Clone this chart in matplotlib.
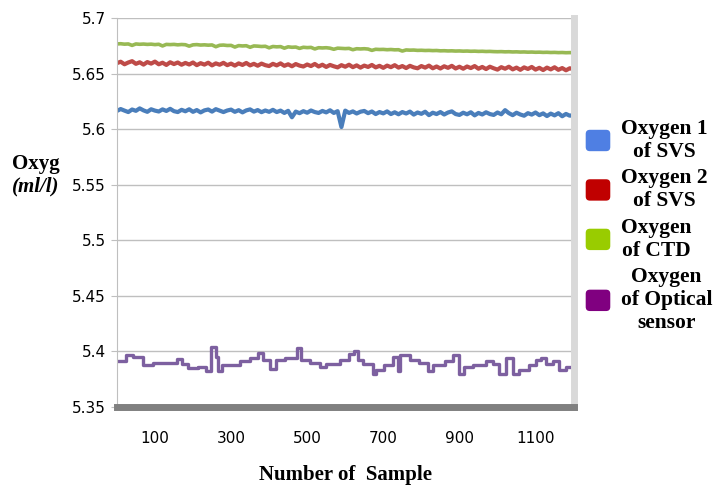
import numpy as np
import matplotlib
matplotlib.use("Agg")
import matplotlib.pyplot as plt
from matplotlib.patches import FancyBboxPatch
from matplotlib.legend_handler import HandlerPatch

# samples every 10 points for the SVS / CTD sensors
samples = list(range(0, 1201, 10))

oxy1_svs = [5.6165, 5.6182, 5.6168, 5.6155, 5.6178, 5.6166, 5.6188, 5.6170, 5.6157, 5.6180,
            5.6168, 5.6160, 5.6179, 5.6165, 5.6184, 5.6163, 5.6155, 5.6175, 5.6162, 5.6180,
            5.6157, 5.6173, 5.6152, 5.6170, 5.6178, 5.6159, 5.6181, 5.6168, 5.6155, 5.6169,
            5.6177, 5.6157, 5.6172, 5.6152, 5.6170, 5.6179, 5.6159, 5.6173, 5.6154, 5.6169,
            5.6157, 5.6175, 5.6155, 5.6168, 5.6147, 5.6166, 5.6108, 5.6159, 5.6145, 5.6163,
            5.6149, 5.6169, 5.6155, 5.6147, 5.6165, 5.6152, 5.6171, 5.6147, 5.6163, 5.6020,
            5.6168, 5.6147, 5.6161, 5.6142, 5.6158, 5.6165, 5.6145, 5.6160, 5.6137, 5.6155,
            5.6143, 5.6161, 5.6137, 5.6153, 5.6135, 5.6155, 5.6142, 5.6159, 5.6132, 5.6151,
            5.6139, 5.6158, 5.6127, 5.6149, 5.6137, 5.6155, 5.6133, 5.6151, 5.6161, 5.6137,
            5.6129, 5.6149, 5.6135, 5.6153, 5.6125, 5.6147, 5.6133, 5.6153, 5.6137, 5.6129,
            5.6151, 5.6135, 5.6172, 5.6145, 5.6127, 5.6149, 5.6133, 5.6122, 5.6145, 5.6132,
            5.6151, 5.6127, 5.6143, 5.6119, 5.6141, 5.6125, 5.6145, 5.6117, 5.6138, 5.6122,
            5.6130]

oxy2_svs = [5.6595, 5.6608, 5.6585, 5.6601, 5.6613, 5.6589, 5.6603, 5.6582, 5.6605, 5.6591,
            5.6609, 5.6585, 5.6599, 5.6579, 5.6603, 5.6587, 5.6601, 5.6581, 5.6597, 5.6583,
            5.6601, 5.6577, 5.6595, 5.6582, 5.6599, 5.6575, 5.6593, 5.6581, 5.6598, 5.6577,
            5.6591, 5.6573, 5.6593, 5.6579, 5.6597, 5.6575, 5.6589, 5.6572, 5.6591, 5.6577,
            5.6569, 5.6589, 5.6575, 5.6593, 5.6571, 5.6585, 5.6567, 5.6587, 5.6573, 5.6565,
            5.6583, 5.6569, 5.6588, 5.6565, 5.6581, 5.6561, 5.6579, 5.6567, 5.6557, 5.6577,
            5.6563, 5.6581, 5.6559, 5.6575, 5.6555, 5.6573, 5.6561, 5.6579, 5.6557, 5.6571,
            5.6553, 5.6573, 5.6559, 5.6577, 5.6555, 5.6569, 5.6551, 5.6571, 5.6557, 5.6549,
            5.6569, 5.6555, 5.6573, 5.6549, 5.6565, 5.6547, 5.6567, 5.6553, 5.6571, 5.6547,
            5.6563, 5.6545, 5.6565, 5.6551, 5.6569, 5.6545, 5.6561, 5.6542, 5.6563, 5.6549,
            5.6537, 5.6559, 5.6545, 5.6563, 5.6539, 5.6555, 5.6535, 5.6557, 5.6543, 5.6561,
            5.6537, 5.6553, 5.6533, 5.6555, 5.6539, 5.6558, 5.6535, 5.6551, 5.6531, 5.6549,
            5.6540]

oxy_ctd = [5.6768, 5.6770, 5.6766, 5.6768, 5.6755, 5.6768, 5.6765, 5.6767, 5.6764, 5.6766,
           5.6762, 5.6765, 5.6750, 5.6764, 5.6762, 5.6764, 5.6760, 5.6763, 5.6761, 5.6748,
           5.6760, 5.6762, 5.6758, 5.6760, 5.6757, 5.6759, 5.6743, 5.6756, 5.6758, 5.6754,
           5.6755, 5.6740, 5.6753, 5.6750, 5.6752, 5.6738, 5.6750, 5.6748, 5.6745, 5.6747,
           5.6733, 5.6745, 5.6742, 5.6744, 5.6730, 5.6742, 5.6738, 5.6740, 5.6728, 5.6738,
           5.6735, 5.6737, 5.6723, 5.6734, 5.6732, 5.6734, 5.6730, 5.6720, 5.6730, 5.6728,
           5.6726, 5.6728, 5.6716, 5.6725, 5.6723, 5.6725, 5.6722, 5.6710, 5.6720, 5.6718,
           5.6719, 5.6716, 5.6718, 5.6715, 5.6716, 5.6704, 5.6714, 5.6712, 5.6713, 5.6710,
           5.6711, 5.6709, 5.6710, 5.6708, 5.6709, 5.6706, 5.6707, 5.6705, 5.6706, 5.6704,
           5.6705, 5.6703, 5.6704, 5.6702, 5.6703, 5.6701, 5.6702, 5.6700, 5.6701, 5.6699,
           5.6698, 5.6699, 5.6697, 5.6698, 5.6696, 5.6697, 5.6695, 5.6696, 5.6694, 5.6695,
           5.6693, 5.6694, 5.6692, 5.6693, 5.6691, 5.6692, 5.6690, 5.6691, 5.6689, 5.6690,
           5.6689]

# optical sensor is a stepped record
optical_x = [0, 25, 43, 69, 95, 157, 170, 187, 213, 235, 248, 260, 266, 275, 323, 349, 371,
             384, 402, 419, 441, 472, 485, 507, 533, 550, 585, 611, 624, 633, 646, 673,
             681, 703, 725, 738, 743, 769, 795, 817, 830, 861, 883, 900, 913, 935, 970,
             988, 1005, 1022, 1040, 1057, 1084, 1101, 1114, 1127, 1145, 1162, 1180, 1200]
optical = [5.391, 5.397, 5.395, 5.388, 5.390, 5.393, 5.389, 5.385, 5.386, 5.382, 5.404,
           5.395, 5.382, 5.388, 5.391, 5.394, 5.399, 5.392, 5.384, 5.392, 5.394, 5.403,
           5.392, 5.390, 5.386, 5.389, 5.392, 5.398, 5.400, 5.392, 5.389, 5.380, 5.383,
           5.388, 5.395, 5.382, 5.397, 5.392, 5.390, 5.382, 5.388, 5.391, 5.397, 5.380,
           5.386, 5.388, 5.391, 5.389, 5.380, 5.394, 5.380, 5.383, 5.388, 5.392, 5.394,
           5.389, 5.391, 5.383, 5.386, 5.386]

labels = ["Oxygen 1\nof SVS", "Oxygen 2\nof SVS", "Oxygen\nof CTD", "Oxygen\nof Optical\nsensor"]
line_colors = ["#4a7ebb", "#be4b48", "#98b954", "#7d60a0"]
legend_colors = ["#4f7fe3", "#c00000", "#99cc00", "#800080"]


class RoundBox(HandlerPatch):
    def create_artists(self, legend, orig_handle, xdescent, ydescent, width, height,
                       fontsize, trans):
        p = FancyBboxPatch((-xdescent + 2, -ydescent + 1), width - 4, height - 2,
                           boxstyle="round,pad=0,rounding_size=3",
                           facecolor=orig_handle.get_facecolor(), edgecolor="none",
                           transform=trans)
        return [p]


fig = plt.figure(figsize=(7.17, 4.91), dpi=100)
ax = fig.add_axes([0.163, 0.171, 0.637, 0.792])

ax.plot(samples, oxy1_svs, color=line_colors[0], lw=3.0)
ax.plot(samples, oxy2_svs, color=line_colors[1], lw=3.0)
ax.plot(samples, oxy_ctd, color=line_colors[2], lw=2.6)
ax.plot(optical_x, optical, color=line_colors[3], lw=2.4, drawstyle="steps-post")

ax.set_xlim(0, 1200)
ax.set_ylim(5.35, 5.7)
ax.set_yticks(np.arange(5.35, 5.701, 0.05))
ax.set_yticklabels(["5.35", "5.4", "5.45", "5.5", "5.55", "5.6", "5.65", "5.7"])
ax.set_xticks([100, 300, 500, 700, 900, 1100])
ax.grid(axis="y", color="#bfbfbf", lw=1)
ax.set_axisbelow(True)

ax.spines["top"].set_visible(False)
ax.spines["left"].set_color("#bfbfbf")
ax.spines["right"].set_color("#d9d9d9")
ax.spines["right"].set_linewidth(5)
ax.spines["bottom"].set_color("#808080")
ax.spines["bottom"].set_linewidth(5)
ax.tick_params(axis="y", length=4, color="#bfbfbf", labelsize=11, pad=4)
ax.tick_params(axis="x", length=0, labelsize=11, pad=17)

ax.set_xlabel("Number of  Sample", family="Liberation Serif", fontweight="bold",
              fontsize=15, labelpad=14)
fig.text(0.05, 0.665, "Oxyg", family="Liberation Serif", fontweight="bold",
         fontsize=15, ha="center", va="center")
fig.text(0.05, 0.62, "(ml/l)", family="Liberation Serif", fontweight="bold",
         fontstyle="italic", fontsize=15, ha="center", va="center")

handles = [plt.Rectangle((0, 0), 1, 1, facecolor=c) for c in legend_colors]
leg = fig.legend(handles, labels, loc="center left", bbox_to_anchor=(0.81, 0.54),
                 frameon=False, handlelength=1.4, handleheight=1.35, handletextpad=0.35,
                 labelspacing=0.3, borderpad=0.1, borderaxespad=0,
                 handler_map={plt.Rectangle: RoundBox()},
                 prop={"family": "Liberation Serif", "weight": "bold", "size": 15.5})
for t in leg.get_texts():
    t.set_multialignment("center")
    t.set_linespacing(1.2)

fig.savefig("out.png", dpi=100)
